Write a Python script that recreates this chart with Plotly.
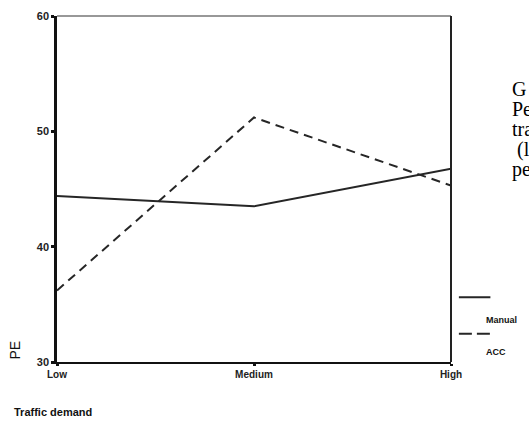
import plotly.graph_objects as go

categories = ["Low", "Medium", "High"]
manual = [44.4, 43.5, 46.75]
acc = [36.2, 51.2, 45.3]
y_ticks = [30, 40, 50, 60]
side_text = ["G", "Pe", "tra", " (l", "pe"]

line_col = "#262626"
sans = "Liberation Sans, Arial, sans-serif"

fig = go.Figure()
fig.add_trace(go.Scatter(x=categories, y=manual, mode="lines", name="Manual",
                         line=dict(color=line_col, width=2), showlegend=False))
fig.add_trace(go.Scatter(x=categories, y=acc, mode="lines", name="ACC",
                         line=dict(color=line_col, width=2, dash="9px,6px"), showlegend=False))

fig.update_layout(
    width=529, height=424, autosize=False,
    margin=dict(l=57, r=78, t=10, b=62),
    paper_bgcolor="white", plot_bgcolor="white",
    xaxis=dict(type="category", range=[0, 2], showgrid=False, zeroline=False,
               showline=True, linecolor="#111", linewidth=2, mirror=False,
               ticks="outside", ticklen=2, tickwidth=3, tickcolor="#111",
               tickfont=dict(family=sans, size=10, color="#222", weight="bold")),
    yaxis=dict(range=[30, 60], tickvals=y_ticks, showgrid=False, zeroline=False,
               showline=True, linecolor="#111", linewidth=2.5,
               ticks="outside", ticklen=3, tickwidth=3, tickcolor="#111",
               tickfont=dict(family=sans, size=11, color="#222", weight="bold")),
)

# frame (top and right borders)
fig.add_shape(type="line", xref="paper", yref="paper", x0=0, x1=1, y0=1, y1=1,
              line=dict(color="#333", width=1.2))
fig.add_shape(type="line", xref="paper", yref="paper", x0=1, x1=1, y0=0, y1=1,
              line=dict(color="#222", width=2))

# axis titles
fig.add_annotation(text="PE", xref="paper", yref="paper", x=-0.109, y=0.0,
                   textangle=-90, showarrow=False, xanchor="center", yanchor="bottom",
                   font=dict(family=sans, size=14, color="#111"))
fig.add_annotation(text="Traffic demand", xref="paper", yref="paper", x=-0.114, y=-0.145,
                   showarrow=False, xanchor="left", yanchor="middle",
                   font=dict(family=sans, size=11, color="#111", weight="bold"))

# legend drawn manually (line above label)
fig.add_shape(type="line", xref="paper", yref="paper", x0=1.02, x1=1.1,
              y0=0.187, y1=0.187, line=dict(color=line_col, width=2))
fig.add_annotation(text="Manual", xref="paper", yref="paper", x=1.085, y=0.122,
                   showarrow=False, xanchor="left", yanchor="middle",
                   font=dict(family=sans, size=9, color="#111", weight="bold"))
fig.add_shape(type="line", xref="paper", yref="paper", x0=1.02, x1=1.1,
              y0=0.082, y1=0.082, line=dict(color=line_col, width=2, dash="13px,5px"))
fig.add_annotation(text="ACC", xref="paper", yref="paper", x=1.085, y=0.028,
                   showarrow=False, xanchor="left", yanchor="middle",
                   font=dict(family=sans, size=9, color="#111", weight="bold"))

# clipped side text from the page
for i, t in enumerate(side_text):
    fig.add_annotation(text=t, xref="paper", yref="paper", x=(510 - 57) / 394,
                       y=(362 - (84 + 20.5 * i)) / 352, showarrow=False,
                       xanchor="left", yanchor="middle",
                       font=dict(family="Liberation Serif, Times New Roman, serif", size=20, color="#000"))

fig.write_html("out.html")
